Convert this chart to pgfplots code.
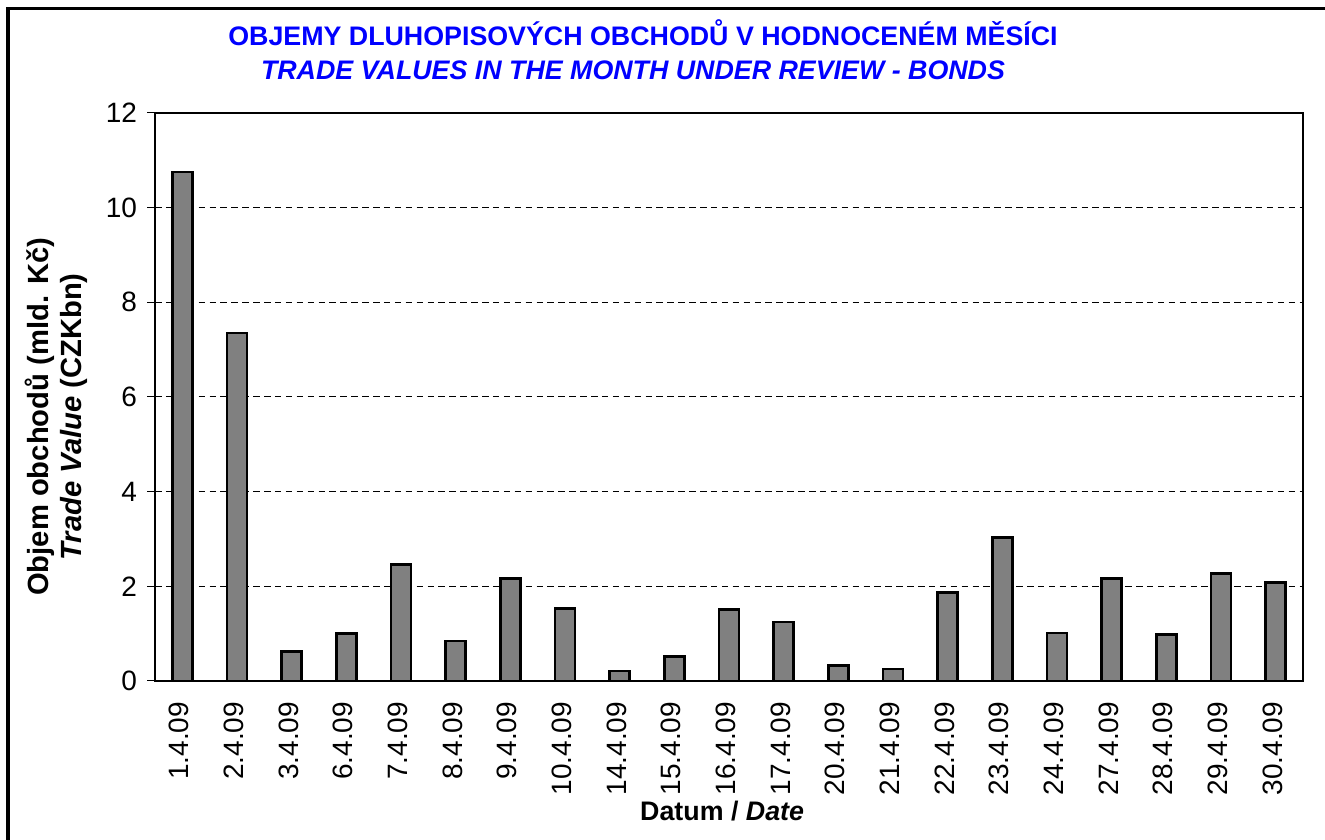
\documentclass[border=0pt]{standalone}
\usepackage{fontspec}
\setmainfont{Liberation Sans}
\usepackage{pgfplots}
\usepackage{pgfplotstable}
\pgfplotsset{compat=1.18}
\definecolor{ttl}{RGB}{0,0,255}
\definecolor{barg}{RGB}{128,128,128}
\pgfplotstableread{
x label value
0 1.4.09 10.75
1 2.4.09 7.35
2 3.4.09 0.62
3 6.4.09 1.00
4 7.4.09 2.46
5 8.4.09 0.85
6 9.4.09 2.17
7 10.4.09 1.53
8 14.4.09 0.21
9 15.4.09 0.52
10 16.4.09 1.51
11 17.4.09 1.25
12 20.4.09 0.33
13 21.4.09 0.25
14 22.4.09 1.87
15 23.4.09 3.03
16 24.4.09 1.01
17 27.4.09 2.17
18 28.4.09 0.98
19 29.4.09 2.27
20 30.4.09 2.08
}\datatable
\begin{document}
\begin{tikzpicture}[font=\fontsize{13}{16.5}\selectfont]
\useasboundingbox (0,0) rectangle (662.5pt,419.5pt);
\draw[line width=1.75pt] (4pt,-5pt) -- (4pt,415.15pt) -- (670pt,415.15pt);
\node[anchor=base, text=ttl, font=\fontsize{13.4}{16.5}\selectfont\bfseries] at (321.5pt,396.5pt) {OBJEMY DLUHOPISOVÝCH OBCHODŮ V HODNOCENÉM MĚSÍCI};
\node[anchor=base, text=ttl, font=\fontsize{13.4}{16.5}\selectfont\bfseries\itshape] at (316.5pt,379.5pt) {TRADE VALUES IN THE MONTH UNDER REVIEW - BONDS};
\begin{axis}[
  at={(77.5pt,79pt)}, anchor=south west,
  scale only axis, width=574pt, height=284pt,
  xmin=-0.5, xmax=20.5, ymin=0, ymax=12,
  ytick={0,2,...,12},
  xtick={0,...,20},
  xticklabels from table={\datatable}{label},
  minor xtick={-0.5,0.5,...,20.5},
  xtick pos=bottom, ytick pos=left,
  tick align=outside,
  major tick length=4pt,
  minor tick length=8pt,
  xtick style={draw=none},
  minor x tick style={black, line width=0.5pt, yshift=4pt},
  ytick style={black, line width=0.5pt},
  ymajorgrids,
  grid style={black, line width=0.5pt, dash pattern=on 3.25pt off 2.2pt},
  axis line style={black, line width=0.6pt},
  /pgf/number format/assume math mode=true,
  yticklabel style={font=\fontsize{14}{16.5}\selectfont, xshift=-1.5pt},
  xticklabel style={yshift=-3pt, xshift=-1.5pt, rotate=90, anchor=east, font=\fontsize{14}{16.5}\selectfont},
  xlabel={\textbf{Datum / \textit{Date}}},
  xlabel style={at={(rel axis cs:0.494,-0.229)}, anchor=center, font=\fontsize{13.4}{16.5}\selectfont},
  ylabel={\textbf{Objem obchodů (mld. Kč)}\\\textbf{\textit{Trade Value} (CZKbn)}},
  ylabel style={at={(rel axis cs:-0.0862,0.465)}, anchor=center, align=center, font=\fontsize{14.6}{16.5}\selectfont},
]
\addplot[ybar, bar width=10pt, fill=barg, draw=black, line width=1.25pt] table[x=x, y=value] {\datatable};
\end{axis}
\end{tikzpicture}
\end{document}
